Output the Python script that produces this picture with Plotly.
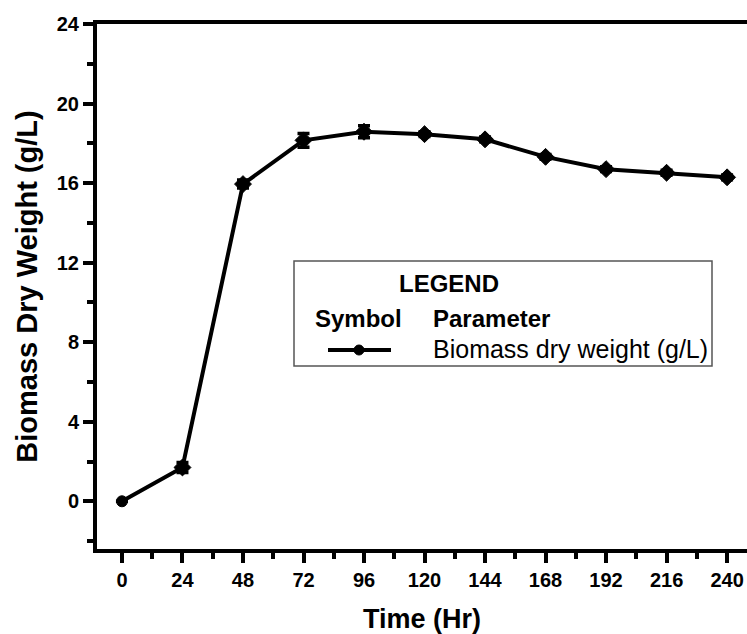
import plotly.graph_objects as go

# Biomass dry weight over the cultivation period
time_hr = [0, 24, 48, 72, 96, 120, 144, 168, 192, 216, 240]
biomass = [0.0, 1.7, 15.95, 18.15, 18.58, 18.46, 18.2, 17.32, 16.7, 16.52, 16.29]
biomass_err = [0.0, 0.25, 0.2, 0.35, 0.3, 0.12, 0.12, 0.12, 0.12, 0.12, 0.12]
marker_symbols = ["circle"] + ["diamond"] * 10

x_ticks = [0, 24, 48, 72, 96, 120, 144, 168, 192, 216, 240]
y_ticks = [0, 4, 8, 12, 16, 20, 24]

FONT = "Liberation Sans, Arial, sans-serif"

fig = go.Figure()
fig.add_trace(go.Scatter(
    x=time_hr, y=biomass,
    mode="lines+markers",
    line=dict(color="black", width=4),
    marker=dict(symbol=marker_symbols, size=[11] + [13] * 10, color="black",
                opacity=1, line=dict(width=1, color="black")),
    error_y=dict(type="data", array=biomass_err, visible=True,
                 color="black", thickness=3.5, width=6),
    showlegend=False,
))

W, H = 747, 634
L, R, T, B = 97, 0, 24, 85
pw, ph = W - L - R, H - T - B


def px(x):
    return (x - L) / pw


def py(y):
    return (H - B - y) / ph


# Legend box drawn as shapes and text
shapes = [
    dict(type="rect", xref="paper", yref="paper",
         x0=px(294), x1=px(712), y0=py(366), y1=py(261),
         line=dict(color="#555555", width=1.5), fillcolor="white", layer="above"),
    dict(type="line", xref="paper", yref="paper",
         x0=px(328), x1=px(391), y0=py(350), y1=py(350),
         line=dict(color="black", width=4), layer="above"),
    dict(type="circle", xref="paper", yref="paper",
         xsizemode="pixel", ysizemode="pixel",
         xanchor=px(359), yanchor=py(350),
         x0=-5, x1=5, y0=-5, y1=5,
         fillcolor="black", line=dict(color="black", width=1), layer="above"),
]

annotations = [
    dict(text="LEGEND", xref="paper", yref="paper", x=px(449), y=py(283),
         xanchor="center", yanchor="middle", showarrow=False,
         font=dict(family=FONT, size=24, color="black", weight="bold")),
    dict(text="Symbol", xref="paper", yref="paper", x=px(313), y=py(318),
         xanchor="left", yanchor="middle", showarrow=False,
         font=dict(family=FONT, size=24, color="black", weight="bold")),
    dict(text="Parameter", xref="paper", yref="paper", x=px(431), y=py(318),
         xanchor="left", yanchor="middle", showarrow=False,
         font=dict(family=FONT, size=24, color="black", weight="bold")),
    dict(text="Biomass dry weight (g/L)", xref="paper", yref="paper",
         x=px(431), y=py(349), xanchor="left", yanchor="middle", showarrow=False,
         font=dict(family=FONT, size=25, color="black")),
]

fig.update_layout(
    width=W, height=H,
    margin=dict(l=L, r=R, t=T, b=B, pad=0),
    paper_bgcolor="white", plot_bgcolor="white",
    shapes=shapes, annotations=annotations,
    xaxis=dict(
        range=[-9.9, 247.9], tickvals=x_ticks, ticktext=[str(v) for v in x_ticks],
        showgrid=False, zeroline=False,
        showline=True, linecolor="black", linewidth=4, mirror=True,
        ticks="outside", ticklen=10, tickwidth=4, tickcolor="black",
        minor=dict(dtick=12, tick0=0, ticks="outside", ticklen=6,
                   tickwidth=4, tickcolor="black", showgrid=False),
        tickfont=dict(family=FONT, size=20, color="black", weight="bold"),
        title=dict(text="Time (Hr)", standoff=20,
                   font=dict(family=FONT, size=27, color="black", weight="bold")),
    ),
    yaxis=dict(
        range=[-2.4, 24], tickvals=y_ticks, ticktext=[str(v) for v in y_ticks],
        showgrid=False, zeroline=False,
        showline=True, linecolor="black", linewidth=4,
        ticks="outside", ticklen=10, tickwidth=4, tickcolor="black",
        minor=dict(dtick=2, tick0=0, ticks="outside", ticklen=6,
                   tickwidth=4, tickcolor="black", showgrid=False),
        tickfont=dict(family=FONT, size=20, color="black", weight="bold"),
        title=dict(text="Biomass Dry Weight (g/L)", standoff=12,
                   font=dict(family=FONT, size=29, color="black", weight="bold")),
    ),
)

fig.write_html("out.html")
